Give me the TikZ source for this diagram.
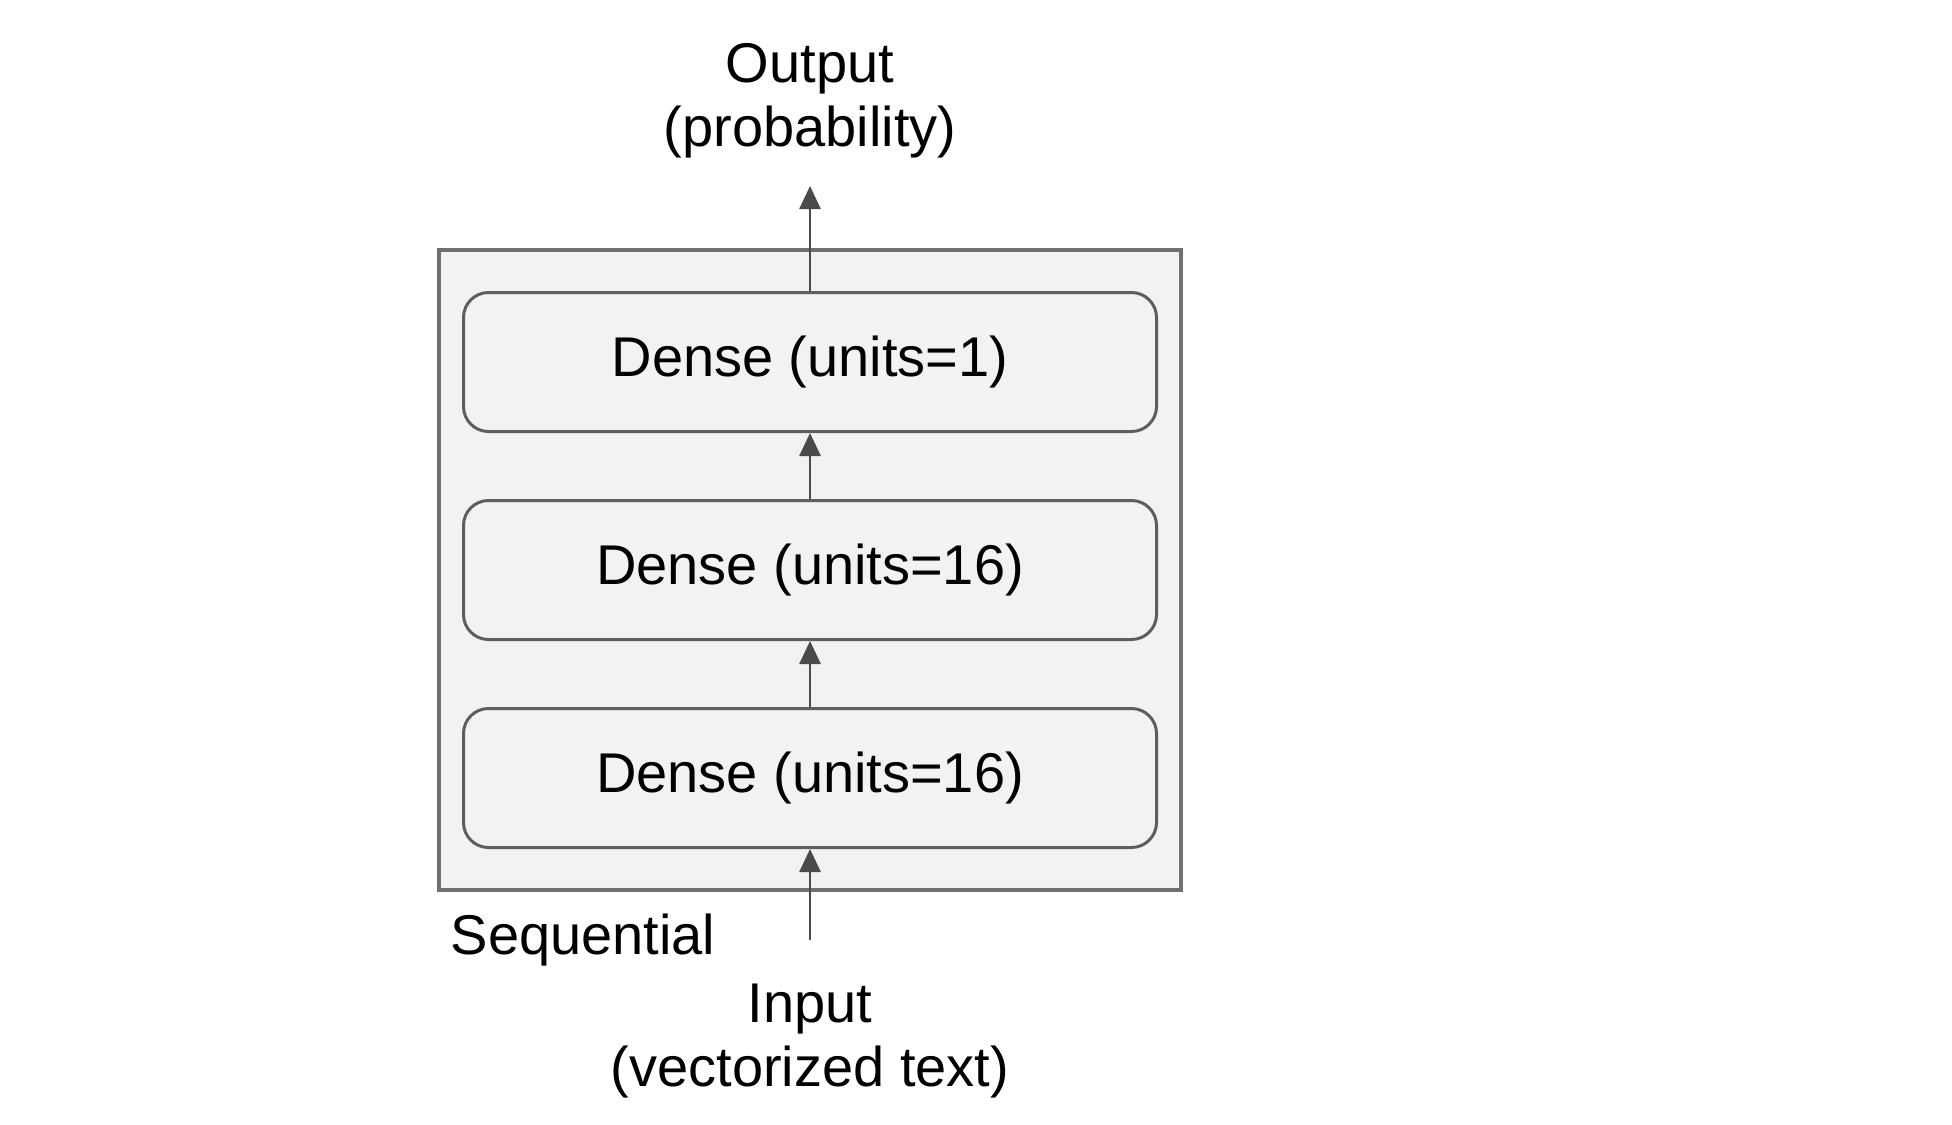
\documentclass[tikz,border=0pt]{standalone}
\usepackage{fontspec}
\setmainfont{Liberation Sans}
\usetikzlibrary{positioning,fit,backgrounds,arrows.meta}
\definecolor{boxfill}{HTML}{F2F2F0}
\definecolor{boxline}{HTML}{5E5E5E}
\definecolor{seqline}{HTML}{707070}
\definecolor{arrgray}{HTML}{4A4A4A}
\begin{document}
\begin{tikzpicture}[x=0.5pt,y=-0.5pt,
	font=\fontsize{28}{32}\selectfont,
	layer/.style={draw=boxline,fill=boxfill,line width=1.5pt,rounded corners=12.5pt,
		minimum width=346.5pt,minimum height=69.5pt,inner sep=0pt},
	seqbox/.style={draw=seqline,fill=boxfill,line width=1.75pt,inner xsep=11.5pt,inner ysep=20.5pt},
	caption/.style={align=center,inner sep=0pt},
	arr/.style={draw=arrgray,line width=1.4pt,-{Triangle[length=11.5pt,width=10.5pt]}}]
	\useasboundingbox (0,0) rectangle (1952,1124);
	\node [layer] (top) at (810,362) {Dense (units=1)};
	\node [layer,below=33pt of top] (mid) {Dense (units=16)};
	\node [layer,below=33pt of mid] (bot) {Dense (units=16)};
	\begin{scope}[on background layer]
		\node [seqbox,fit=(top)(bot)] (seq) {};
	\end{scope}
	\node [caption,below right=11pt and 6.5pt of seq.south west] (seqname) {Sequential};
	\node [caption,above=66pt of top] (out) {Output\\(probability)};
	\node [caption,below=67.5pt of bot] (in) {Input\\(vectorized text)};
	\draw [arr,shorten <=22pt] (in) -- (bot);
	\draw [arr] (bot) -- (mid);
	\draw [arr] (mid) -- (top);
	\draw [arr,shorten >=13.5pt] (top) -- (out);
\end{tikzpicture}
\end{document}
